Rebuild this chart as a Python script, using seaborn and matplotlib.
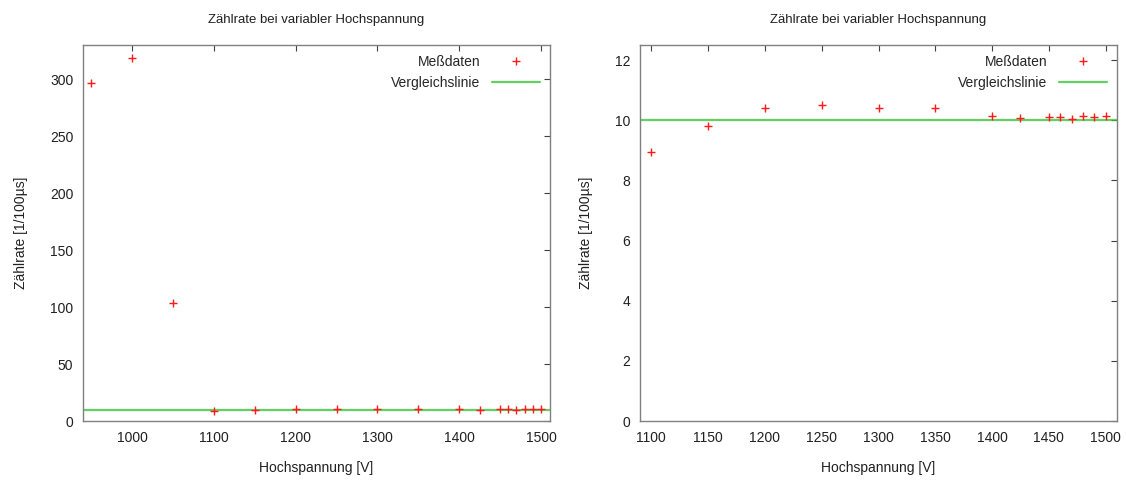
import matplotlib
matplotlib.use("Agg")
import matplotlib.pyplot as plt
import seaborn as sns
import pandas as pd
from matplotlib.lines import Line2D

sns.set_style("white")
plt.rcParams['font.family'] = ['Liberation Sans', 'DejaVu Sans']

voltage = [950, 1000, 1050, 1100, 1150, 1200, 1250, 1300, 1350, 1400,
           1425, 1450, 1460, 1470, 1480, 1490, 1500]
rate = [297, 319, 104, 8.95, 9.8, 10.4, 10.5, 10.4, 10.4, 10.15,
        10.07, 10.12, 10.12, 10.05, 10.15, 10.12, 10.15]
reference = 10

title = "Zählrate bei variabler Hochspannung"
xlabel = "Hochspannung [V]"
ylabel = "Zählrate [1/100µs]"
label_data = "Meßdaten"
label_line = "Vergleichslinie"

df = pd.DataFrame({"U": voltage, "N": rate})
df_right = df[df["U"] >= 1100]

fig = plt.figure(figsize=(11.26, 4.86), dpi=100)
ax1 = fig.add_axes([83/1126, 1-421/486, 467/1126, 376/486])
ax2 = fig.add_axes([640/1126, 1-421/486, 477/1126, 376/486])

red = "#ff1a1a"
green = "#2ec22e"

configs = [
    (ax1, df, (940, 1511), (0, 330), [1000, 1100, 1200, 1300, 1400, 1500], [0, 50, 100, 150, 200, 250, 300]),
    (ax2, df_right, (1090, 1510), (0, 12.5), list(range(1100, 1501, 50)), [0, 2, 4, 6, 8, 10, 12]),
]

for ax, d, xl, yl, xt, yt in configs:
    ax.axhline(reference, color=green, lw=1.6, alpha=0.75, zorder=1)
    sns.scatterplot(data=d, x="U", y="N", ax=ax, marker="+", color=red,
                    s=36, linewidth=1.0, zorder=3, legend=False)
    ax.set_xlim(*xl)
    ax.set_ylim(*yl)
    ax.set_xticks(xt)
    ax.set_yticks(yt)
    ax.tick_params(direction="in", top=True, right=True, length=4,
                   width=0.8, color="#404040", labelsize=10, pad=7,
                   labelcolor="#202020")
    for s in ax.spines.values():
        s.set_color("#808080")
        s.set_linewidth(1.0)
    ax.set_title(title, fontsize=9.5, pad=16, color="#202020")
    ax.set_xlabel(xlabel, fontsize=10, labelpad=12, color="#202020")
    ax.set_ylabel(ylabel, fontsize=10, labelpad=16, color="#202020")
    handles = [
        Line2D([], [], color=red, marker="+", linestyle="none", markersize=6, markeredgewidth=1.0),
        Line2D([], [], color=green, lw=1.6, alpha=0.75),
    ]
    ax.legend(handles, [label_data, label_line], loc="upper right",
              frameon=False, markerfirst=False, fontsize=10,
              handlelength=3.5, borderaxespad=0.3, labelspacing=0.55)

fig.savefig("out.png", dpi=100)
